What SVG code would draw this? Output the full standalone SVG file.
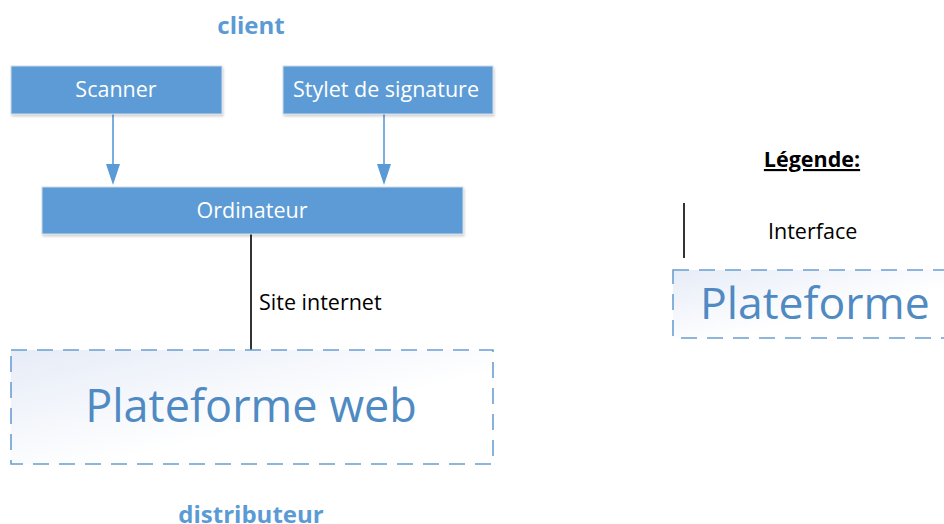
<svg xmlns="http://www.w3.org/2000/svg" width="944" height="524" viewBox="0 0 944 524">
<style>
.t{font-family:"Open Sans","Liberation Sans",sans-serif}
.hdr{font-size:24px;font-weight:bold;fill:#5b9bd5}
.box{fill:#5b9bd5;stroke:#d0dbe8;stroke-width:1}
.bt{font-size:21.5px;fill:#ffffff}
.dash{stroke:#6a9fd2;stroke-width:1.6;stroke-dasharray:16 10}
.big{fill:#4f8ac2}
.blk{fill:#000000;font-size:21.5px}
</style>
<defs>
<linearGradient id="g" x1="0" y1="0" x2="1" y2="1">
<stop offset="0" stop-color="#e6ecf7"/>
<stop offset="0.6" stop-color="#ffffff"/>
</linearGradient>
<filter id="sh" x="-5%" y="-10%" width="110%" height="130%">
<feDropShadow dx="1" dy="2" stdDeviation="1" flood-color="#000" flood-opacity="0.18"/>
</filter>
</defs>
<rect width="944" height="524" fill="#ffffff"/>
<text class="t hdr" x="251" y="34" text-anchor="middle">client</text>
<text class="t hdr" x="251" y="523" text-anchor="middle">distributeur</text>
<g id="connectors">
<line x1="113" y1="114" x2="113" y2="166" stroke="#7aaee0" stroke-width="2"/>
<path d="M106,164 L120,164 L113,185 Z" fill="#5b9bd5"/>
<line x1="384" y1="114" x2="384" y2="166" stroke="#7aaee0" stroke-width="2"/>
<path d="M377,164 L391,164 L384,185 Z" fill="#5b9bd5"/>
<line x1="251" y1="234" x2="251" y2="350" stroke="#333333" stroke-width="2"/>
<text class="t blk" x="259" y="310">Site internet</text>
</g>
<g id="scanner">
<rect class="box" x="11" y="66" width="211" height="48" filter="url(#sh)"/>
<text class="t bt" x="116" y="97" text-anchor="middle">Scanner</text>
</g>
<g id="stylet">
<rect class="box" x="283" y="66" width="210" height="48" filter="url(#sh)"/>
<text class="t bt" x="386" y="97" text-anchor="middle">Stylet de signature</text>
</g>
<g id="ordinateur">
<rect class="box" x="42" y="187" width="421" height="47" filter="url(#sh)"/>
<text class="t bt" x="252" y="218" text-anchor="middle">Ordinateur</text>
</g>
<g id="plateforme-web">
<rect class="dash" x="11" y="350" width="482" height="114" fill="url(#g)"/>
<text class="t big" x="251" y="422" text-anchor="middle" font-size="45">Plateforme web</text>
</g>
<g id="legende">
<text class="t" x="812" y="167" text-anchor="middle" font-size="21.5" font-weight="bold" text-decoration="underline" fill="#000">Légende:</text>
<line x1="684" y1="203" x2="684" y2="258" stroke="#333333" stroke-width="2"/>
<text class="t blk" x="768" y="239">Interface</text>
<rect class="dash" x="673" y="270" width="290" height="68" fill="url(#g)"/>
<text class="t big" x="700" y="319" font-size="44.5">Plateforme</text>
</g>
</svg>
